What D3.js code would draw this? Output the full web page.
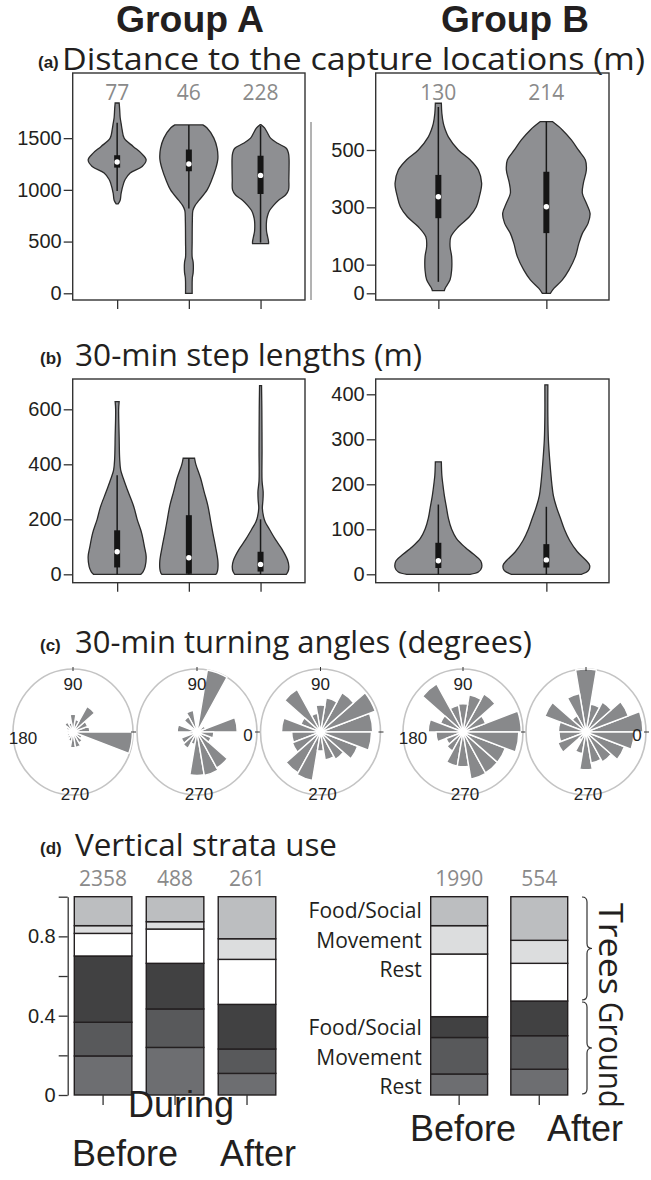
<!DOCTYPE html>
<html><head><meta charset="utf-8">
<script src="https://cdn.jsdelivr.net/npm/d3@7"></script>
<style>body{margin:0;background:#fff} svg{display:block}</style>
</head><body>
<svg id="c" width="651" height="1180"></svg>
<script>
// ---------------- DATA ----------------
const periodsA = ["Before", "During", "After"];
const periodsB = ["Before", "After"];

// (a) distance to capture locations: n, ticks, violin profiles [value, density], box stats [lo,q1,med,q3,hi]
const distN_A = [77, 46, 228];
const distN_B = [130, 214];
const distTicksA = [0, 500, 1000, 1500];
const distTicksB = [0, 100, 300, 500];
const distA_before = [[1840,2],[1780,2.5],[1700,3],[1640,4],[1580,5],[1500,7],[1420,16],[1355,24],[1290,29],[1226,25],[1162,13],[1100,8],[1065,6.5],[968,4],[900,3],[865,1]];
const distA_during = [[1628,14],[1600,18],[1500,25],[1400,28.3],[1300,29],[1200,26.7],[1100,23],[1000,18.3],[900,10.3],[850,6.3],[800,4],[700,3.5],[500,3.3],[350,3.3],[300,4.3],[200,4.3],[150,3.5],[0,3.3]];
const distA_after = [[1630,0.5],[1600,4],[1550,7],[1500,10],[1450,17],[1400,26],[1350,28],[1300,28.5],[1200,28.5],[1100,28.3],[1000,28],[950,25],[900,18],[850,13],[800,9],[750,7],[700,6],[600,6],[550,7],[500,8],[480,8]];
const distB_before = [[663,3],[628,3.5],[593,5],[570,7],[546,10],[500,20],[465,32],[430,40],[384,43.3],[337,41],[302,38],[267,31],[232,20],[197,12.5],[163,11.7],[128,13.3],[81,13.3],[47,11.7],[17,6.7],[9,6]];
const distB_after = [[599,6],[570,16],[535,25],[500,32],[465,39],[430,40],[384,37],[349,36],[314,40],[279,43.7],[244,41.7],[209,36],[174,32.5],[128,29],[81,22.5],[47,16],[17,7.5],[0,4]];
const distA_box = [[990,1215,1270,1335,1650],[820,1180,1250,1390,1628],[490,960,1140,1330,1620]];
const distB_box = [[40,262,337,413,650],[0,210,302,424,599]];

// (b) 30-min step lengths
const stepTicksA = [0, 200, 400, 600];
const stepTicksB = [0, 100, 200, 300, 400];
const stepA_before = [[628,2],[600,1.5],[500,2],[420,2.5],[380,3.5],[350,6],[300,11],[245,16.7],[200,20],[150,24.5],[100,27.3],[65,29],[28,28],[10,26],[0,23.7]];
const stepA_during = [[422,5.7],[400,7],[350,11.7],[300,15.3],[250,19],[200,21.5],[150,24],[100,26.7],[50,29],[20,29],[5,28],[0,27]];
const stepA_after = [[686,1],[600,1.3],[450,1.5],[340,1.5],[300,2.6],[270,2.4],[240,1.8],[210,3],[190,4.7],[163,9],[126,15],[90,21.7],[52,27],[28,28.3],[10,27.5],[0,25.8]];
const stepB_before = [[250,3],[220,3.5],[200,4.5],[175,6],[150,8],[125,10],[100,13.3],[80,18],[60,26.7],[45,35],[30,42.3],[15,43.3],[5,40],[0,31.7]];
const stepB_after = [[421,1.5],[350,1.5],[300,2],[250,3.5],[200,5.5],[175,7],[150,10],[125,14],[100,18],[75,23.3],[50,31],[30,40],[20,43.3],[8,42],[0,35]];
const stepA_box = [[0,25,82,160,360],[0,2,60,215,422],[0,10,36,82,200]];
const stepB_box = [[0,14,30,70,155],[0,15,32,67,150]];

// (c) turning angles: 18 bins of 20 degrees (0-20, 20-40, ...), relative frequency (1 = circle)
const roseBinWidth = 20;
const roseA_before = [0.28,0.26,0.47,0.2,0.28,0.15,0.18,0.12,0.1,0.07,0.1,0.12,0.15,0.25,0.25,0.2,0.16,0.99];
const roseA_during = [0.67,0.15,0.08,1.0,0.06,0.35,0.28,0.1,0.33,0.12,0.28,0.3,0.2,0.69,0.7,0.66,0.25,0.28];
const roseA_after  = [0.87,0.97,0.72,0.55,0.43,0.3,0.78,0.35,0.65,0.48,0.5,0.75,0.78,0.3,0.45,0.5,0.66,0.85];
const roseB_before = [0.97,0.4,0.7,0.6,0.45,0.43,0.88,0.4,0.58,0.45,0.3,0.35,0.55,0.55,0.76,0.75,0.75,0.93];
const roseB_after  = [0.95,0.75,0.55,0.45,1.0,0.62,0.3,0.73,0.46,0.45,0.5,0.15,0.35,0.6,0.5,0.55,0.68,0.8];
const roseLabelSets = [["90","180","270"],["90","0","270"],["90","270"],["90","180","270"],["0","270"]];

// (d) vertical strata use (proportions, bottom to top)
const strataKeys = ["groundRest","groundMove","groundFood","treesRest","treesMove","treesFood"];
const strataLabels = ["Rest","Movement","Food/Social","Rest","Movement","Food/Social"];
const strataN_A = [2358, 488, 261];
const strataN_B = [1990, 554];
const strataA = [[0.197,0.170,0.334,0.114,0.039,0.146],[0.240,0.194,0.230,0.173,0.037,0.126],[0.109,0.123,0.225,0.227,0.104,0.212]];
const strataB = [[0.106,0.184,0.105,0.316,0.143,0.146],[0.130,0.169,0.175,0.190,0.116,0.220]];
const strataTicks = [0, 0.2, 0.4, 0.6, 0.8, 1];
const strataTickLabels = ["0", "", "0.4", "", "0.8", ""];

// ---------------- STYLE ----------------
const SANS = "'Liberation Sans', Arial, Helvetica, sans-serif";
const OPEN = "'Open Sans', 'Noto Sans', sans-serif";
const INK = "#231f20";
const GRAYTXT = "#8a8a8a";
const VIOLIN = "#8e8f92";
const strataColors = ["#6d6e71","#58595b","#414142","#ffffff","#dcddde","#bcbec0"];

const svg = d3.select("#c");

function T(sel, x, y, s, size, o = {}) {
  const t = sel.append("text").attr("x", x).attr("y", y).text(s)
    .attr("font-size", size).attr("font-family", o.family || SANS)
    .attr("fill", o.fill || INK).attr("text-anchor", o.anchor || "start")
    .attr("font-weight", o.weight || "normal");
  if (o.len) t.attr("textLength", o.len).attr("lengthAdjust", "spacingAndGlyphs");
  if (o.transform) t.attr("transform", o.transform);
  return t;
}

// ---------------- HEADERS ----------------
T(svg, 190, 32, "Group A", 36, {weight: "bold", anchor: "middle", len: 148});
T(svg, 515, 32, "Group B", 36, {weight: "bold", anchor: "middle", len: 148});

function panelTitle(tag, title, x0, xt, y, len) {
  T(svg, x0, y - 2, tag, 17, {weight: "bold"});
  T(svg, xt, y, title, 31, {family: OPEN, len: len, fill: "#231f20"});
}
panelTitle("(a)", "Distance to the capture locations (m)", 38, 62, 70, 583);
panelTitle("(b)", "30-min step lengths (m)", 40, 75, 366, 347);
panelTitle("(c)", "30-min turning angles (degrees)", 40, 75, 653, 457);
panelTitle("(d)", "Vertical strata use", 40, 75, 856, 262);

// ---------------- VIOLIN PANELS ----------------
function violinPanel(cfg) {
  const g = svg.append("g");
  const y = d3.scaleLinear().domain(cfg.domain).range([cfg.y1, cfg.y0]);
  const x = d3.scalePoint().domain(cfg.periods).range([cfg.x0, cfg.x1]).padding(cfg.pad);
  const w = d3.scaleLinear().domain([0, cfg.maxW]).range([0, cfg.maxW]);

  g.append("rect").attr("x", cfg.x0).attr("y", cfg.y0)
    .attr("width", cfg.x1 - cfg.x0).attr("height", cfg.y1 - cfg.y0)
    .attr("fill", "none").attr("stroke", "#333").attr("stroke-width", 1.4);

  const ax = g.append("g").attr("transform", `translate(${cfg.x0},0)`)
    .call(d3.axisLeft(y).tickValues(cfg.ticks).tickSize(9).tickPadding(2).tickSizeOuter(0).tickFormat(d3.format("d")));
  ax.select(".domain").remove();
  ax.selectAll("line").attr("stroke", "#333").attr("stroke-width", 1.3);
  ax.selectAll("text").attr("font-size", 20).attr("font-family", SANS).attr("fill", INK);

  const bx = g.append("g").attr("transform", `translate(0,${cfg.y1})`)
    .call(d3.axisBottom(x).tickSize(9).tickFormat(""));
  bx.select(".domain").remove();
  bx.selectAll("line").attr("stroke", "#333").attr("stroke-width", 1.3);

  const area = d3.area().curve(d3.curveCatmullRom.alpha(0.5));
  cfg.periods.forEach((p, i) => {
    const cx = x(p);
    area.y(d => y(d[0])).x0(d => cx - w(d[1])).x1(d => cx + w(d[1]));
    g.append("path").attr("d", area(cfg.profiles[i]))
      .attr("fill", VIOLIN).attr("stroke", "#2a2a2a").attr("stroke-width", 1.3);
    const b = cfg.boxes[i];
    g.append("line").attr("x1", cx).attr("x2", cx).attr("y1", y(b[0])).attr("y2", y(b[4]))
      .attr("stroke", "#1a1a1a").attr("stroke-width", 1.5);
    g.append("rect").attr("x", cx - 3).attr("width", 6)
      .attr("y", y(b[3])).attr("height", y(b[1]) - y(b[3])).attr("fill", "#151515");
    g.append("circle").attr("cx", cx).attr("cy", y(b[2])).attr("r", 2.7).attr("fill", "#fff");
    if (cfg.ns) T(g, cx, cfg.y0 + 27, cfg.ns[i], 21, {family: OPEN, anchor: "middle", fill: GRAYTXT});
  });
}

violinPanel({x0: 72.7, x1: 305, y0: 73, y1: 300, domain: [-65, 2130], periods: periodsA, pad: 0.62,
  maxW: 29, ticks: distTicksA, profiles: [distA_before, distA_during, distA_after], boxes: distA_box, ns: distN_A});
violinPanel({x0: 375.7, x1: 609, y0: 73, y1: 300, domain: [-23.4, 768.6], periods: periodsB, pad: 0.58,
  maxW: 44, ticks: distTicksB, profiles: [distB_before, distB_after], boxes: distB_box, ns: distN_B});
violinPanel({x0: 72.7, x1: 305, y0: 379, y1: 582.7, domain: [-30.5, 710.2], periods: periodsA, pad: 0.62,
  maxW: 29, ticks: stepTicksA, profiles: [stepA_before, stepA_during, stepA_after], boxes: stepA_box});
violinPanel({x0: 375.7, x1: 609, y0: 379, y1: 582.7, domain: [-18.7, 434], periods: periodsB, pad: 0.58,
  maxW: 44, ticks: stepTicksB, profiles: [stepB_before, stepB_after], boxes: stepB_box});

// thin stray frame line seen left of Group B panel (a)
svg.append("line").attr("x1", 311).attr("x2", 311).attr("y1", 122).attr("y2", 300)
  .attr("stroke", "#666").attr("stroke-width", 1);

// ---------------- ROSE DIAGRAMS ----------------
const roses = [roseA_before, roseA_during, roseA_after, roseB_before, roseB_after];
const roseCxFix = [73, 197, 320.5, 463, 586];
const roseCy = 732;
const R = 60, RY = 63;
const rScale = d3.scaleLinear().domain([0, 1]).range([0, R]);
const toRad = d => d * Math.PI / 180;
const arc = d3.arc().innerRadius(0)
  .outerRadius(d => rScale(d.v))
  .startAngle(d => toRad(90 - (d.a + roseBinWidth)))
  .endAngle(d => toRad(90 - d.a));

roses.forEach((vals, i) => {
  const cx = roseCxFix[i];
  const g = svg.append("g");
  g.append("ellipse").attr("cx", cx).attr("cy", roseCy).attr("rx", R).attr("ry", RY)
    .attr("fill", "none").attr("stroke", "#c4c4c4").attr("stroke-width", 1.6);
  const bg = g.append("g").attr("transform", `translate(${cx},${roseCy}) scale(1,${RY / R})`);
  const bins = vals.map((v, k) => ({a: k * roseBinWidth, v}));
  bg.selectAll("path").data(bins).join("path").attr("d", arc)
    .attr("fill", "#88898b").attr("stroke", "#fff").attr("stroke-width", 1.4).attr("stroke-linejoin", "round");
  bg.append("circle").attr("r", 3.5).attr("fill", "#fff");
  g.append("line").attr("x1", cx).attr("x2", cx).attr("y1", roseCy - RY - 2).attr("y2", roseCy - RY + 2)
    .attr("stroke", "#333").attr("stroke-width", 1);
  g.append("line").attr("x1", cx + R - 2).attr("x2", cx + R + 3).attr("y1", roseCy).attr("y2", roseCy)
    .attr("stroke", "#333").attr("stroke-width", 1);
  roseLabelSets[i].forEach(lab => {
    const pos = {
      "90": [cx, roseCy - RY + 21],
      "270": [cx + 2, roseCy + RY + 5],
      "180": [cx - 50, roseCy + 12],
      "0": [cx + 51, roseCy + 9]
    }[lab];
    T(g, pos[0], pos[1], lab, 17, {anchor: "middle", fill: "#222"});
  });
});

// ---------------- STRATA ----------------
const yS = d3.scaleLinear().domain([0, 1]).range([1095, 896.7]);
const stack = d3.stack().keys(strataKeys);
function strataPanel(periods, rows, ns, x0, x1, pi, po, axis) {
  const g = svg.append("g");
  const x = d3.scaleBand().domain(periods).range([x0, x1]).paddingInner(pi).paddingOuter(po);
  const data = rows.map((r, i) => {
    const o = {period: periods[i]};
    strataKeys.forEach((k, j) => o[k] = r[j]);
    return o;
  });
  const series = stack(data);
  series.forEach((s, j) => {
    g.selectAll(null).data(s).join("rect")
      .attr("x", d => x(d.data.period)).attr("width", x.bandwidth())
      .attr("y", d => yS(d[1])).attr("height", d => yS(d[0]) - yS(d[1]))
      .attr("fill", strataColors[j]).attr("stroke", INK).attr("stroke-width", 1.4);
  });
  const bx = g.append("g").attr("transform", `translate(0,1095)`)
    .call(d3.axisBottom(x).tickSize(10).tickFormat(""));
  bx.select(".domain").remove();
  bx.selectAll("line").attr("stroke", "#333").attr("stroke-width", 1.3);
  periods.forEach((p, i) => T(g, x(p) + x.bandwidth() / 2, 886, ns[i], 21, {family: OPEN, anchor: "middle", fill: GRAYTXT}));
  if (axis) {
    const ax = g.append("g").attr("transform", `translate(67.7,0)`)
      .call(d3.axisLeft(yS).tickValues(strataTicks).tickSize(9).tickPadding(3).tickSizeOuter(0)
        .tickFormat((d, i) => strataTickLabels[i]));
    ax.select(".domain").attr("stroke", "#333").attr("stroke-width", 1.3);
    ax.selectAll("line").attr("stroke", "#333").attr("stroke-width", 1.3);
    ax.selectAll("text").attr("font-size", 20).attr("font-family", SANS).attr("fill", INK);
  }
  return x;
}
strataPanel(periodsA, strataA, strataN_A, 67.7, 282.4, 0.2, 0.0917, true);
strataPanel(periodsB, strataB, strataN_B, 430.7, 567.7, 0.29, 0, false);

const labelOrder = [5, 4, 3, 2, 1, 0];
labelOrder.forEach((k, i) => {
  const yy = (i < 3 ? 911 : 1028 - 3 * 29.5) + i * 29.5 + 7;
  T(svg, 421.7, yy, strataLabels[k], 21, {family: OPEN, anchor: "end"});
});

function brace(xb, ya, yb, w) {
  const ym = (ya + yb) / 2, r = 5;
  return `M${xb},${ya} q${r},0 ${r},${r} L${xb + r},${ym - r} q0,${r} ${w - r},${r} q${-(w - r)},0 ${-(w - r)},${r} L${xb + r},${yb - r} q0,${r} ${-r},${r}`;
}
svg.append("path").attr("d", brace(582, 897, 1000, 10)).attr("fill", "none").attr("stroke", "#333").attr("stroke-width", 1.2);
svg.append("path").attr("d", brace(582, 1002, 1094, 10)).attr("fill", "none").attr("stroke", "#333").attr("stroke-width", 1.2);
T(svg, 0, 0, "Trees", 32, {family: OPEN, anchor: "middle", len: 92, transform: "translate(599,949) rotate(90)"});
T(svg, 0, 0, "Ground", 32, {family: OPEN, anchor: "middle", len: 106, transform: "translate(599,1055) rotate(90)"});

T(svg, 181, 1117, "During", 36, {anchor: "middle"});
T(svg, 125, 1166, "Before", 36, {anchor: "middle"});
T(svg, 258, 1166, "After", 36, {anchor: "middle"});
T(svg, 463, 1141, "Before", 36, {anchor: "middle"});
T(svg, 585, 1141, "After", 36, {anchor: "middle"});
</script>
</body></html>
